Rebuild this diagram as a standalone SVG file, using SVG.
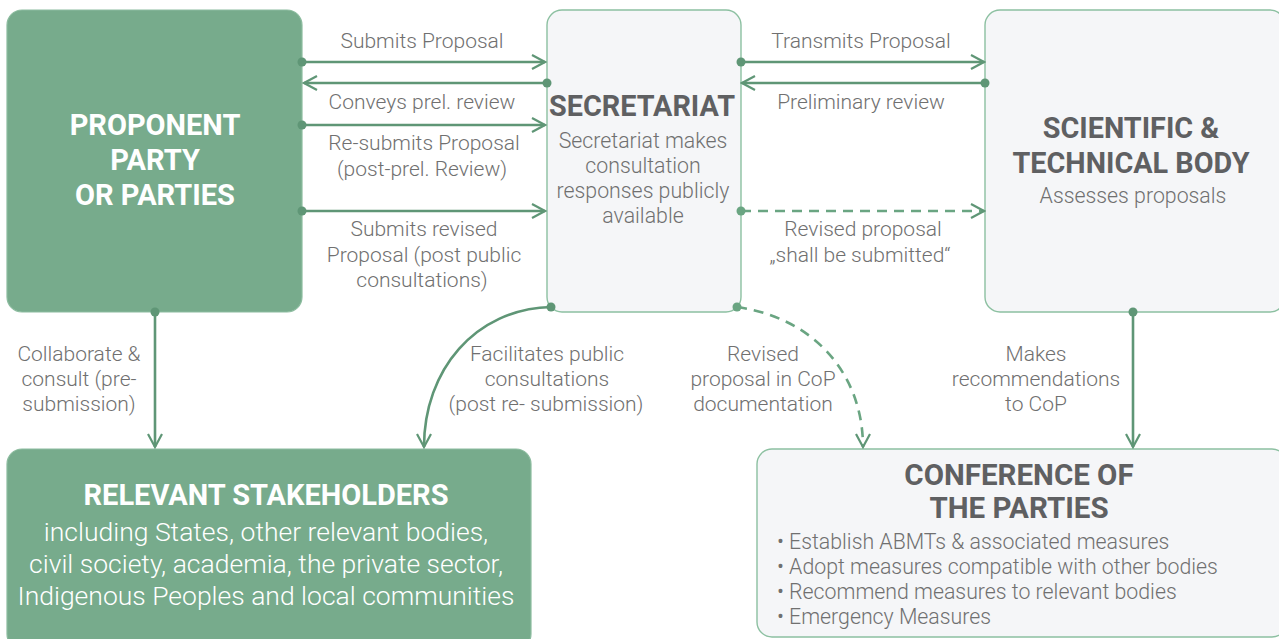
<svg xmlns="http://www.w3.org/2000/svg" width="1279" height="639" viewBox="0 0 1279 639">
<defs>
<marker id="ah" markerWidth="16" markerHeight="16" refX="14" refY="8" orient="auto" markerUnits="userSpaceOnUse">
<path d="M1,1 L14,8 L1,15" fill="none" stroke="#5f9676" stroke-width="2.2"/>
</marker>
<style>
.bg{fill:#ffffff}
.green{fill:#77ab8c;stroke:#8cbc9f;stroke-width:1.2}
.light{fill:#f5f6f8;stroke:#8cc0a1;stroke-width:1.4}
.c{fill:none;stroke:#5f9676;stroke-width:2.6;marker-end:url(#ah)}
.d{fill:none;stroke:#6aa582;stroke-width:2.6;stroke-dasharray:10 7;marker-end:url(#ah)}
.dot{fill:#5f9676}
.lab{font-family:Roboto,"Liberation Sans",sans-serif;font-weight:300;font-size:21px;fill:#707070;text-anchor:middle}
.tw{font-family:Roboto,"Liberation Sans",sans-serif;font-weight:700;font-size:29px;fill:#ffffff;text-anchor:middle}
.tg{font-family:Roboto,"Liberation Sans",sans-serif;font-weight:700;font-size:28.8px;fill:#5f6062;text-anchor:middle}
.sub{font-family:Roboto,"Liberation Sans",sans-serif;font-weight:300;font-size:21.3px;fill:#707070;text-anchor:middle}
.subw{font-family:Roboto,"Liberation Sans",sans-serif;font-weight:300;font-size:26.5px;fill:#ffffff;text-anchor:middle}
.bul{font-family:Roboto,"Liberation Sans",sans-serif;font-weight:300;font-size:21.3px;fill:#707070}
</style>
</defs>
<rect class="bg" x="0" y="0" width="1279" height="639"/>

<g id="proponent">
<rect class="green" x="7" y="10" width="295" height="302" rx="15"/>
<text class="tw" x="155" y="135">PROPONENT</text>
<text class="tw" x="155" y="170">PARTY</text>
<text class="tw" x="155" y="205">OR PARTIES</text>
</g>

<g id="secretariat">
<rect class="light" x="547" y="10" width="194" height="302" rx="15"/>
<text class="tg" x="642" y="116">SECRETARIAT</text>
<text class="sub" x="643" y="148">Secretariat makes</text>
<text class="sub" x="643" y="173">consultation</text>
<text class="sub" x="643" y="198">responses publicly</text>
<text class="sub" x="643" y="223">available</text>
</g>

<g id="scientific">
<rect class="light" x="985" y="10" width="300" height="302" rx="15"/>
<text class="tg" x="1131" y="138">SCIENTIFIC &amp;</text>
<text class="tg" x="1131" y="173">TECHNICAL BODY</text>
<text class="sub" x="1133" y="203">Assesses proposals</text>
</g>

<g id="stakeholders">
<rect class="green" x="7" y="449" width="524" height="200" rx="15"/>
<text class="tw" x="266" y="505">RELEVANT STAKEHOLDERS</text>
<text class="subw" x="266" y="541">including States, other relevant bodies,</text>
<text class="subw" x="266" y="573">civil society, academia, the private sector,</text>
<text class="subw" x="266" y="605">Indigenous Peoples and local communities</text>
</g>

<g id="cop">
<rect class="light" x="757" y="449" width="530" height="188" rx="15"/>
<text class="tg" x="1019" y="485" style="font-size:29.5px">CONFERENCE OF</text>
<text class="tg" x="1019" y="518" style="font-size:29.5px">THE PARTIES</text>
<text class="bul" x="777" y="549">• Establish ABMTs &amp; associated measures</text>
<text class="bul" x="777" y="574">• Adopt measures compatible with other bodies</text>
<text class="bul" x="777" y="599">• Recommend measures to relevant bodies</text>
<text class="bul" x="777" y="624">• Emergency Measures</text>
</g>

<g id="connectors">
<path class="c" d="M302,62 H545"/>
<path class="c" d="M547,83 H304"/>
<path class="c" d="M302,125 H545"/>
<path class="c" d="M302,211 H545"/>
<path class="c" d="M741,62 H984"/>
<path class="c" d="M985,83 H742"/>
<path class="d" d="M741,211 H984"/>
<path class="c" d="M155,312 V447"/>
<path class="c" d="M1133,312 V447"/>
<path class="c" d="M551,307 C475,309 424,370 424,447"/>
<path class="d" d="M737,307 C815,318 863,375 863,447"/>
<circle class="dot" cx="302" cy="62" r="4.5"/>
<circle class="dot" cx="547" cy="83" r="4.5"/>
<circle class="dot" cx="302" cy="125" r="4.5"/>
<circle class="dot" cx="302" cy="211" r="4.5"/>
<circle class="dot" cx="741" cy="62" r="4.5"/>
<circle class="dot" cx="985" cy="83" r="4.5"/>
<circle class="dot" cx="741" cy="211" r="4.5" style="fill:#6aa582"/>
<circle class="dot" cx="155" cy="312" r="4.5"/>
<circle class="dot" cx="1133" cy="312" r="4.5"/>
<circle class="dot" cx="551" cy="307" r="4.5"/>
<circle class="dot" cx="737" cy="307" r="4.5" style="fill:#6aa582"/>
<text class="lab" x="422" y="48">Submits Proposal</text>
<text class="lab" x="422" y="109">Conveys prel. review</text>
<text class="lab" x="424" y="150">Re-submits Proposal</text>
<text class="lab" x="422" y="176">(post-prel. Review)</text>
<text class="lab" x="424" y="236">Submits revised</text>
<text class="lab" x="424" y="262">Proposal (post public</text>
<text class="lab" x="422" y="287">consultations)</text>
<text class="lab" x="861" y="48">Transmits Proposal</text>
<text class="lab" x="861" y="109">Preliminary review</text>
<text class="lab" x="863" y="236">Revised proposal</text>
<text class="lab" x="860" y="262">„shall be submitted“</text>
<text class="lab" x="79" y="361">Collaborate &amp;</text>
<text class="lab" x="79" y="386">consult (pre-</text>
<text class="lab" x="79" y="411">submission)</text>
<text class="lab" x="547" y="361">Facilitates public</text>
<text class="lab" x="547" y="386">consultations</text>
<text class="lab" x="546" y="411">(post re- submission)</text>
<text class="lab" x="763" y="361">Revised</text>
<text class="lab" x="763" y="386">proposal in CoP</text>
<text class="lab" x="763" y="411">documentation</text>
<text class="lab" x="1036" y="361">Makes</text>
<text class="lab" x="1036" y="386">recommendations</text>
<text class="lab" x="1036" y="411">to CoP</text>
</g>
</svg>
